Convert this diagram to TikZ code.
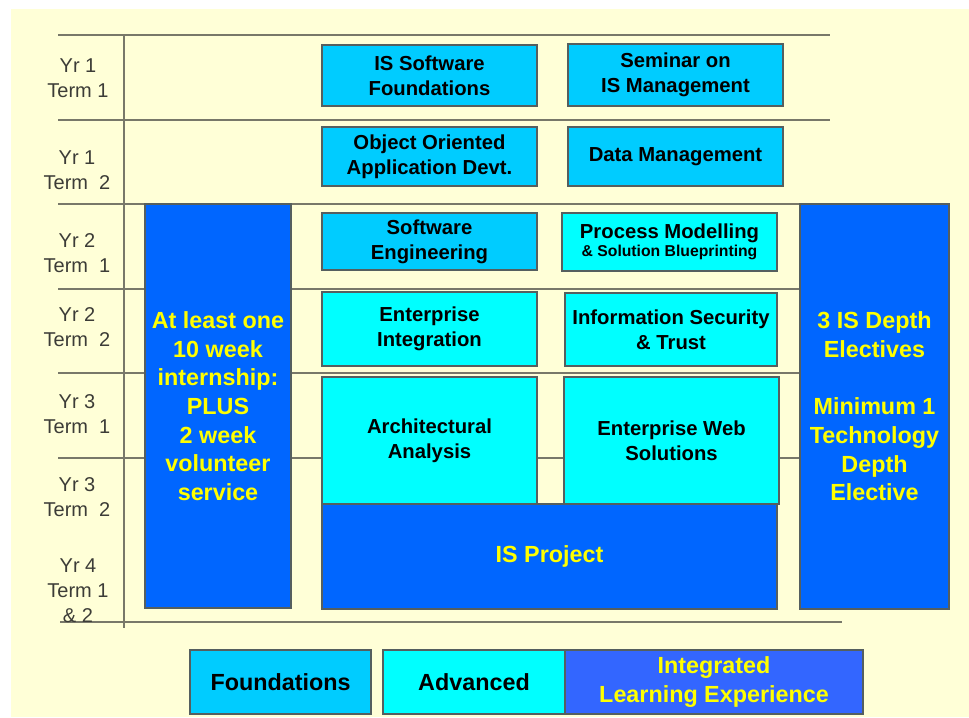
\documentclass[tikz,border=0pt]{standalone}
\usepackage{fontspec}
\setmainfont{Liberation Sans}
\usepackage{tikz}

\definecolor{bgyellow}{RGB}{255,255,215}
\definecolor{foundcyan}{RGB}{0,204,255}
\definecolor{advcyan}{RGB}{0,255,255}
\definecolor{ilblue}{RGB}{0,102,255}
\definecolor{keyblue}{RGB}{51,102,255}
\definecolor{gridgray}{RGB}{120,120,105}
\definecolor{edgegray}{RGB}{85,95,95}
\definecolor{txtyellow}{RGB}{255,255,0}
\definecolor{termgray}{RGB}{60,60,55}

\begin{document}
\begin{tikzpicture}[x=0.75pt,y=0.75pt,yscale=-1,xscale=1,
  course/.style={draw=edgegray,line width=0.8pt,inner sep=0pt,align=center,font=\fontsize{15.2}{18.75}\selectfont\bfseries},
  found/.style={course,fill=foundcyan},
  adv/.style={course,fill=advcyan},
  integ/.style={course,fill=ilblue,text=txtyellow,font=\fontsize{17.5}{21.5}\selectfont\bfseries},
  term/.style={align=center,inner sep=0pt,text=termgray,font=\fontsize{15}{18.75}\selectfont},
  grid/.style={draw=gridgray,line width=1.1pt}]
\useasboundingbox (0,0) rectangle (969,717);
%Shape: Rectangle
\fill[bgyellow] (11,9) rectangle (969,717);

%Straight Lines
\foreach \y in {35,120,204,289,373,458}
  \draw[grid] (58,\y) -- (830,\y);
\draw[grid] (60,622) -- (842,622);
\draw[grid] (124,35) -- (124,628);

% Text Node
\node[term] (r1) at (78,78.5) {Yr 1\\Term 1};
\node[term] (r2) at (77,170) {Yr 1\\Term\ \ 2};
\node[term] (r3) at (77,253.5) {Yr 2\\Term\ \ 1};
\node[term] (r4) at (77,327.5) {Yr 2\\Term\ \ 2};
\node[term] (r5) at (77,414) {Yr 3\\Term\ \ 1};
\node[term] (r6) at (77,497.5) {Yr 3\\Term\ \ 2};
\node[term] (r7) at (78,591) {Yr 4\\Term 1\\\& 2};

%Shape: Rectangle
\node[found,minimum width=161.25pt,minimum height=45.75pt] (swf) at (429.5,75.5) {IS Software\\Foundations};
\node[found,minimum width=161.25pt,minimum height=46.5pt] (sem) at (675.5,75) {Seminar on\\IS Management};
\node[found,minimum width=161.25pt,minimum height=44.25pt] (ooad) at (429.5,156.5) {Object Oriented\\Application Devt.};
\node[found,minimum width=161.25pt,minimum height=44.25pt] (dm) at (675.5,156.5) {Data Management};
\node[found,minimum width=161.25pt,minimum height=42.75pt] (se) at (429.5,241.5) {Software\\Engineering};
\node[adv,minimum width=161.25pt,minimum height=43.5pt] (pm) at (669.5,242) {Process Modelling\\[-5pt]{\fontsize{11.8}{14}\selectfont\& Solution Blueprinting}};
\node[adv,minimum width=161.25pt,minimum height=55.5pt] (ei) at (429.5,329) {Enterprise\\Integration};
\node[adv,minimum width=159pt,minimum height=54.75pt] (ist) at (671,329.5) {Information Security\\\& Trust};
\node[adv,minimum width=161.25pt,minimum height=95.25pt] (aa) at (429.5,440.5) {Architectural\\Analysis};
\node[adv,minimum width=161.25pt,minimum height=95.25pt] (ews) at (671.5,440.5) {Enterprise Web\\Solutions};
\node[integ,minimum width=341.25pt,minimum height=78.75pt] (isp) at (549.5,556.5) {IS Project};
\node[integ,minimum width=109.5pt,minimum height=303pt] (intern) at (218,406) {At least one\\10 week\\internship:\\PLUS\\2 week\\volunteer\\service};
\node[integ,minimum width=111.75pt,minimum height=303.75pt] (elec) at (874.5,406.5) {3 IS Depth\\Electives\\[21.5pt]Minimum 1\\Technology\\Depth\\Elective};

%Shape: Rectangle
\node[found,minimum width=135.75pt,minimum height=48pt,font=\fontsize{17.5}{21.5}\selectfont\bfseries] (keyf) at (280.5,682) {Foundations};
\node[adv,minimum width=136.5pt,minimum height=48pt,font=\fontsize{17.5}{21.5}\selectfont\bfseries] (keya) at (474,682) {Advanced};
\node[integ,fill=keyblue,minimum width=223.5pt,minimum height=48pt] (keyi) at (714,682) {Integrated\\Learning Experience};

\end{tikzpicture}
\end{document}
